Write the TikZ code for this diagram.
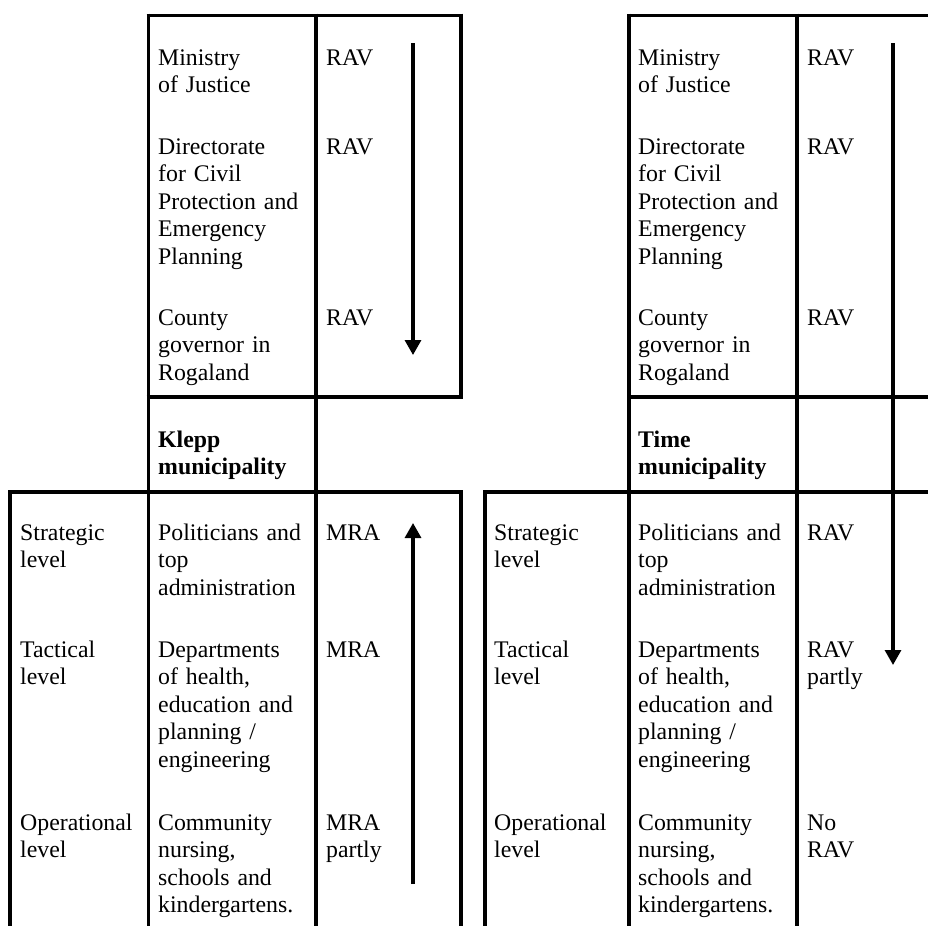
\documentclass[tikz,border=0pt]{standalone}
\usepackage{fontspec}
\setmainfont{Liberation Serif}
\usetikzlibrary{arrows.meta}
\begin{document}
\begin{tikzpicture}[x=1pt,y=-1pt,
  rule/.style={line width=3.6pt},
  txt/.style={anchor=base west,inner sep=0pt,text width=#1,align=left,
    font=\fontsize{23.8}{27.5}\selectfont},
  txt/.default=150pt,
  flow/.style={line width=3.2pt,-{Triangle[length=15pt,width=16pt]}}]
\useasboundingbox (0,0) rectangle (928,926);

% ---------- Klepp (left) table ----------
\draw[rule] (148.5,13.5) -- (148.5,926);
\draw[rule] (316,13.5) -- (316,926);
\draw[rule] (461,13.5) -- (461,399);
\draw[rule] (461,490) -- (461,926);
\draw[rule] (10,490) -- (10,926);
\draw[rule] (146.7,15.5) -- (462.8,15.5);
\draw[rule] (146.7,397) -- (462.8,397);
\draw[rule] (8.2,492) -- (462.8,492);

% ---------- Time (right) table ----------
\draw[rule] (629,13.5) -- (629,926);
\draw[rule] (797,13.5) -- (797,926);
\draw[rule] (485,490) -- (485,926);
\draw[rule] (627.2,15.5) -- (928,15.5);
\draw[rule] (627.2,397) -- (928,397);
\draw[rule] (483.2,492) -- (928,492);

% ---------- Klepp texts ----------
\node[txt] (kmin) at (158,65) {Ministry\\of Justice};
\node[txt] (kdir) at (158,154) {Directorate\\for Civil\\Protection and\\Emergency\\Planning};
\node[txt] (kcgr) at (158,325) {County\\governor in\\Rogaland};
\node[txt] (kname) at (158,447) {\bfseries Klepp\\\bfseries municipality};
\node[txt] (kpol) at (158,540) {Politicians and\\top\\administration};
\node[txt] (kdep) at (158,657) {Departments\\of health,\\education and\\planning /\\engineering};
\node[txt] (kcom) at (158,830) {Community\\nursing,\\schools and\\kindergartens.};

\node[txt=120pt] (kstr) at (20,540) {Strategic\\level};
\node[txt=120pt] (ktac) at (20,657) {Tactical\\level};
\node[txt=120pt] (kope) at (20,830) {Operational\\level};

\node[txt=80pt] (kr1) at (326,65) {RAV};
\node[txt=80pt] (kr2) at (326,154) {RAV};
\node[txt=80pt] (kr3) at (326,325) {RAV};
\node[txt=80pt] (km1) at (326,540) {MRA};
\node[txt=80pt] (km2) at (326,657) {MRA};
\node[txt=80pt] (km3) at (326,830) {MRA\\partly};

% ---------- Time texts ----------
\node[txt] (tmin) at (638,65) {Ministry\\of Justice};
\node[txt] (tdir) at (638,154) {Directorate\\for Civil\\Protection and\\Emergency\\Planning};
\node[txt] (tcgr) at (638,325) {County\\governor in\\Rogaland};
\node[txt] (tname) at (638,447) {\bfseries Time\\\bfseries municipality};
\node[txt] (tpol) at (638,540) {Politicians and\\top\\administration};
\node[txt] (tdep) at (638,657) {Departments\\of health,\\education and\\planning /\\engineering};
\node[txt] (tcom) at (638,830) {Community\\nursing,\\schools and\\kindergartens.};

\node[txt=120pt] (tstr) at (494,540) {Strategic\\level};
\node[txt=120pt] (ttac) at (494,657) {Tactical\\level};
\node[txt=120pt] (tope) at (494,830) {Operational\\level};

\node[txt=80pt] (tr1) at (807,65) {RAV};
\node[txt=80pt] (tr2) at (807,154) {RAV};
\node[txt=80pt] (tr3) at (807,325) {RAV};
\node[txt=80pt] (tr4) at (807,540) {RAV};
\node[txt=80pt] (tr5) at (807,657) {RAV\\partly};
\node[txt=80pt] (tr6) at (807,830) {No\\RAV};

% ---------- arrows ----------
\coordinate (ka1s) at (413,43);
\coordinate (ka1e) at (413,355);
\coordinate (ka2s) at (413,884);
\coordinate (ka2e) at (413,523);
\coordinate (tas) at (893,43);
\coordinate (tae) at (893,665);
\draw[flow] (ka1s) -- (ka1e);
\draw[flow] (ka2s) -- (ka2e);
\draw[flow] (tas) -- (tae);
\end{tikzpicture}
\end{document}
